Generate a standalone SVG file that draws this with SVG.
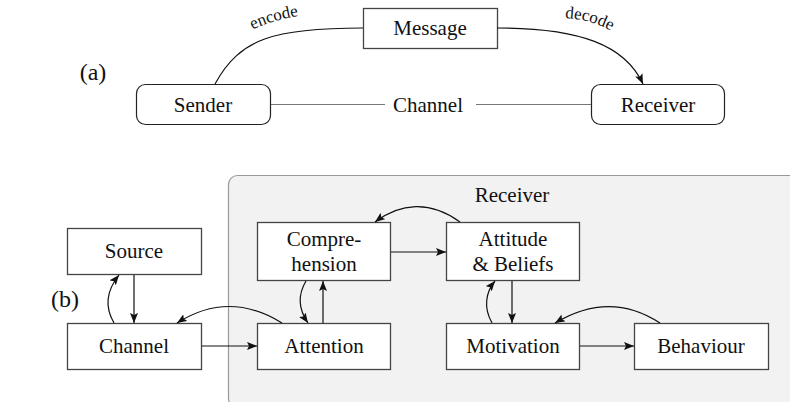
<svg xmlns="http://www.w3.org/2000/svg" width="790" height="402" viewBox="0 0 790 402" font-family="'Liberation Serif', 'DejaVu Serif', serif">
<defs>
<style>
text{font-family:'Liberation Serif','DejaVu Serif',serif;font-size:21px;fill:#111;text-anchor:middle}
.lbl{font-size:17px}
.tag{font-size:24px}
.box{fill:#fff;stroke:#444;stroke-width:1.3}
.rbox{fill:#fff;stroke:#222;stroke-width:1.2}
.c{fill:none;stroke:#111;stroke-width:1.2}
.g{fill:none;stroke:#777;stroke-width:1}
</style>
<marker id="ah" markerWidth="10" markerHeight="8" refX="10" refY="4" orient="auto" markerUnits="userSpaceOnUse">
<path d="M0,0 L10,4 L0,8 L2,4 Z" fill="#111"/>
</marker>
<path id="encp" d="M246,33 Q272,19 306,15"/>
<path id="decp" d="M559,18 Q592,18 616,34"/>
</defs>

<text class="tag" x="93" y="80">(a)</text>
<text class="tag" x="65" y="307">(b)</text>

<g id="receiver-group">
<rect x="228.5" y="175.5" width="575" height="232" rx="9" fill="#f2f2f2" stroke="#999" stroke-width="1.2"/>
<text x="512" y="202">Receiver</text>
</g>

<g id="message"><rect class="box" x="363.5" y="8.5" width="134" height="40"/><text x="430" y="35">Message</text></g>
<g id="sender"><rect class="rbox" x="136.5" y="84.5" width="134" height="40" rx="9"/><text x="203" y="112">Sender</text></g>
<g id="receiver"><rect class="rbox" x="591.5" y="84.5" width="133" height="40" rx="9"/><text x="658" y="112">Receiver</text></g>
<g id="channel-a"><text x="428" y="112">Channel</text></g>

<g id="source"><rect class="box" x="67.5" y="228.5" width="134" height="46"/><text x="134" y="258">Source</text></g>
<g id="channel"><rect class="box" x="67.5" y="323.5" width="134" height="46"/><text x="134" y="353">Channel</text></g>
<g id="attention"><rect class="box" x="257.5" y="323.5" width="133" height="46"/><text x="324" y="353">Attention</text></g>
<g id="comprehension"><rect class="box" x="257.5" y="222.5" width="133" height="58"/><text x="324" y="246">Compre-</text><text x="324" y="271">hension</text></g>
<g id="attitude"><rect class="box" x="446.5" y="222.5" width="133" height="58"/><text x="513" y="246">Attitude</text><text x="513" y="271">&amp; Beliefs</text></g>
<g id="motivation"><rect class="box" x="446.5" y="323.5" width="133" height="46"/><text x="513" y="353">Motivation</text></g>
<g id="behaviour"><rect class="box" x="634.5" y="323.5" width="134" height="46"/><text x="701" y="353">Behaviour</text></g>

<g id="connectors">
<path class="g" d="M271,104.5 L385,104.5"/>
<path class="g" d="M476,104.5 L591,104.5"/>
<path class="c" d="M215,84 C240,38 275,28 363,28"/>
<path class="c" d="M497,28 C580,28 625,45 643,84" marker-end="url(#ah)"/>
<text class="lbl"><textPath href="#encp" startOffset="50%">encode</textPath></text>
<text class="lbl"><textPath href="#decp" startOffset="50%">decode</textPath></text>

<path class="c" d="M134,275 L134,323" marker-end="url(#ah)"/>
<path class="c" d="M114,323 C104,306 107,290 119,275" marker-end="url(#ah)"/>
<path class="c" d="M202,346 L257,346" marker-end="url(#ah)"/>
<path class="c" d="M282,323 C245,300 210,302 177,323" marker-end="url(#ah)"/>
<path class="c" d="M323,323 L323,281" marker-end="url(#ah)"/>
<path class="c" d="M306,281 C297,296 299,310 308,323" marker-end="url(#ah)"/>
<path class="c" d="M391,252 L446,252" marker-end="url(#ah)"/>
<path class="c" d="M460,222 C430,200 400,203 375,222" marker-end="url(#ah)"/>
<path class="c" d="M512,281 L512,323" marker-end="url(#ah)"/>
<path class="c" d="M492,323 C483,307 486,292 495,281" marker-end="url(#ah)"/>
<path class="c" d="M580,346 L634,346" marker-end="url(#ah)"/>
<path class="c" d="M660,323 C625,300 590,302 555,323" marker-end="url(#ah)"/>
</g>
</svg>
